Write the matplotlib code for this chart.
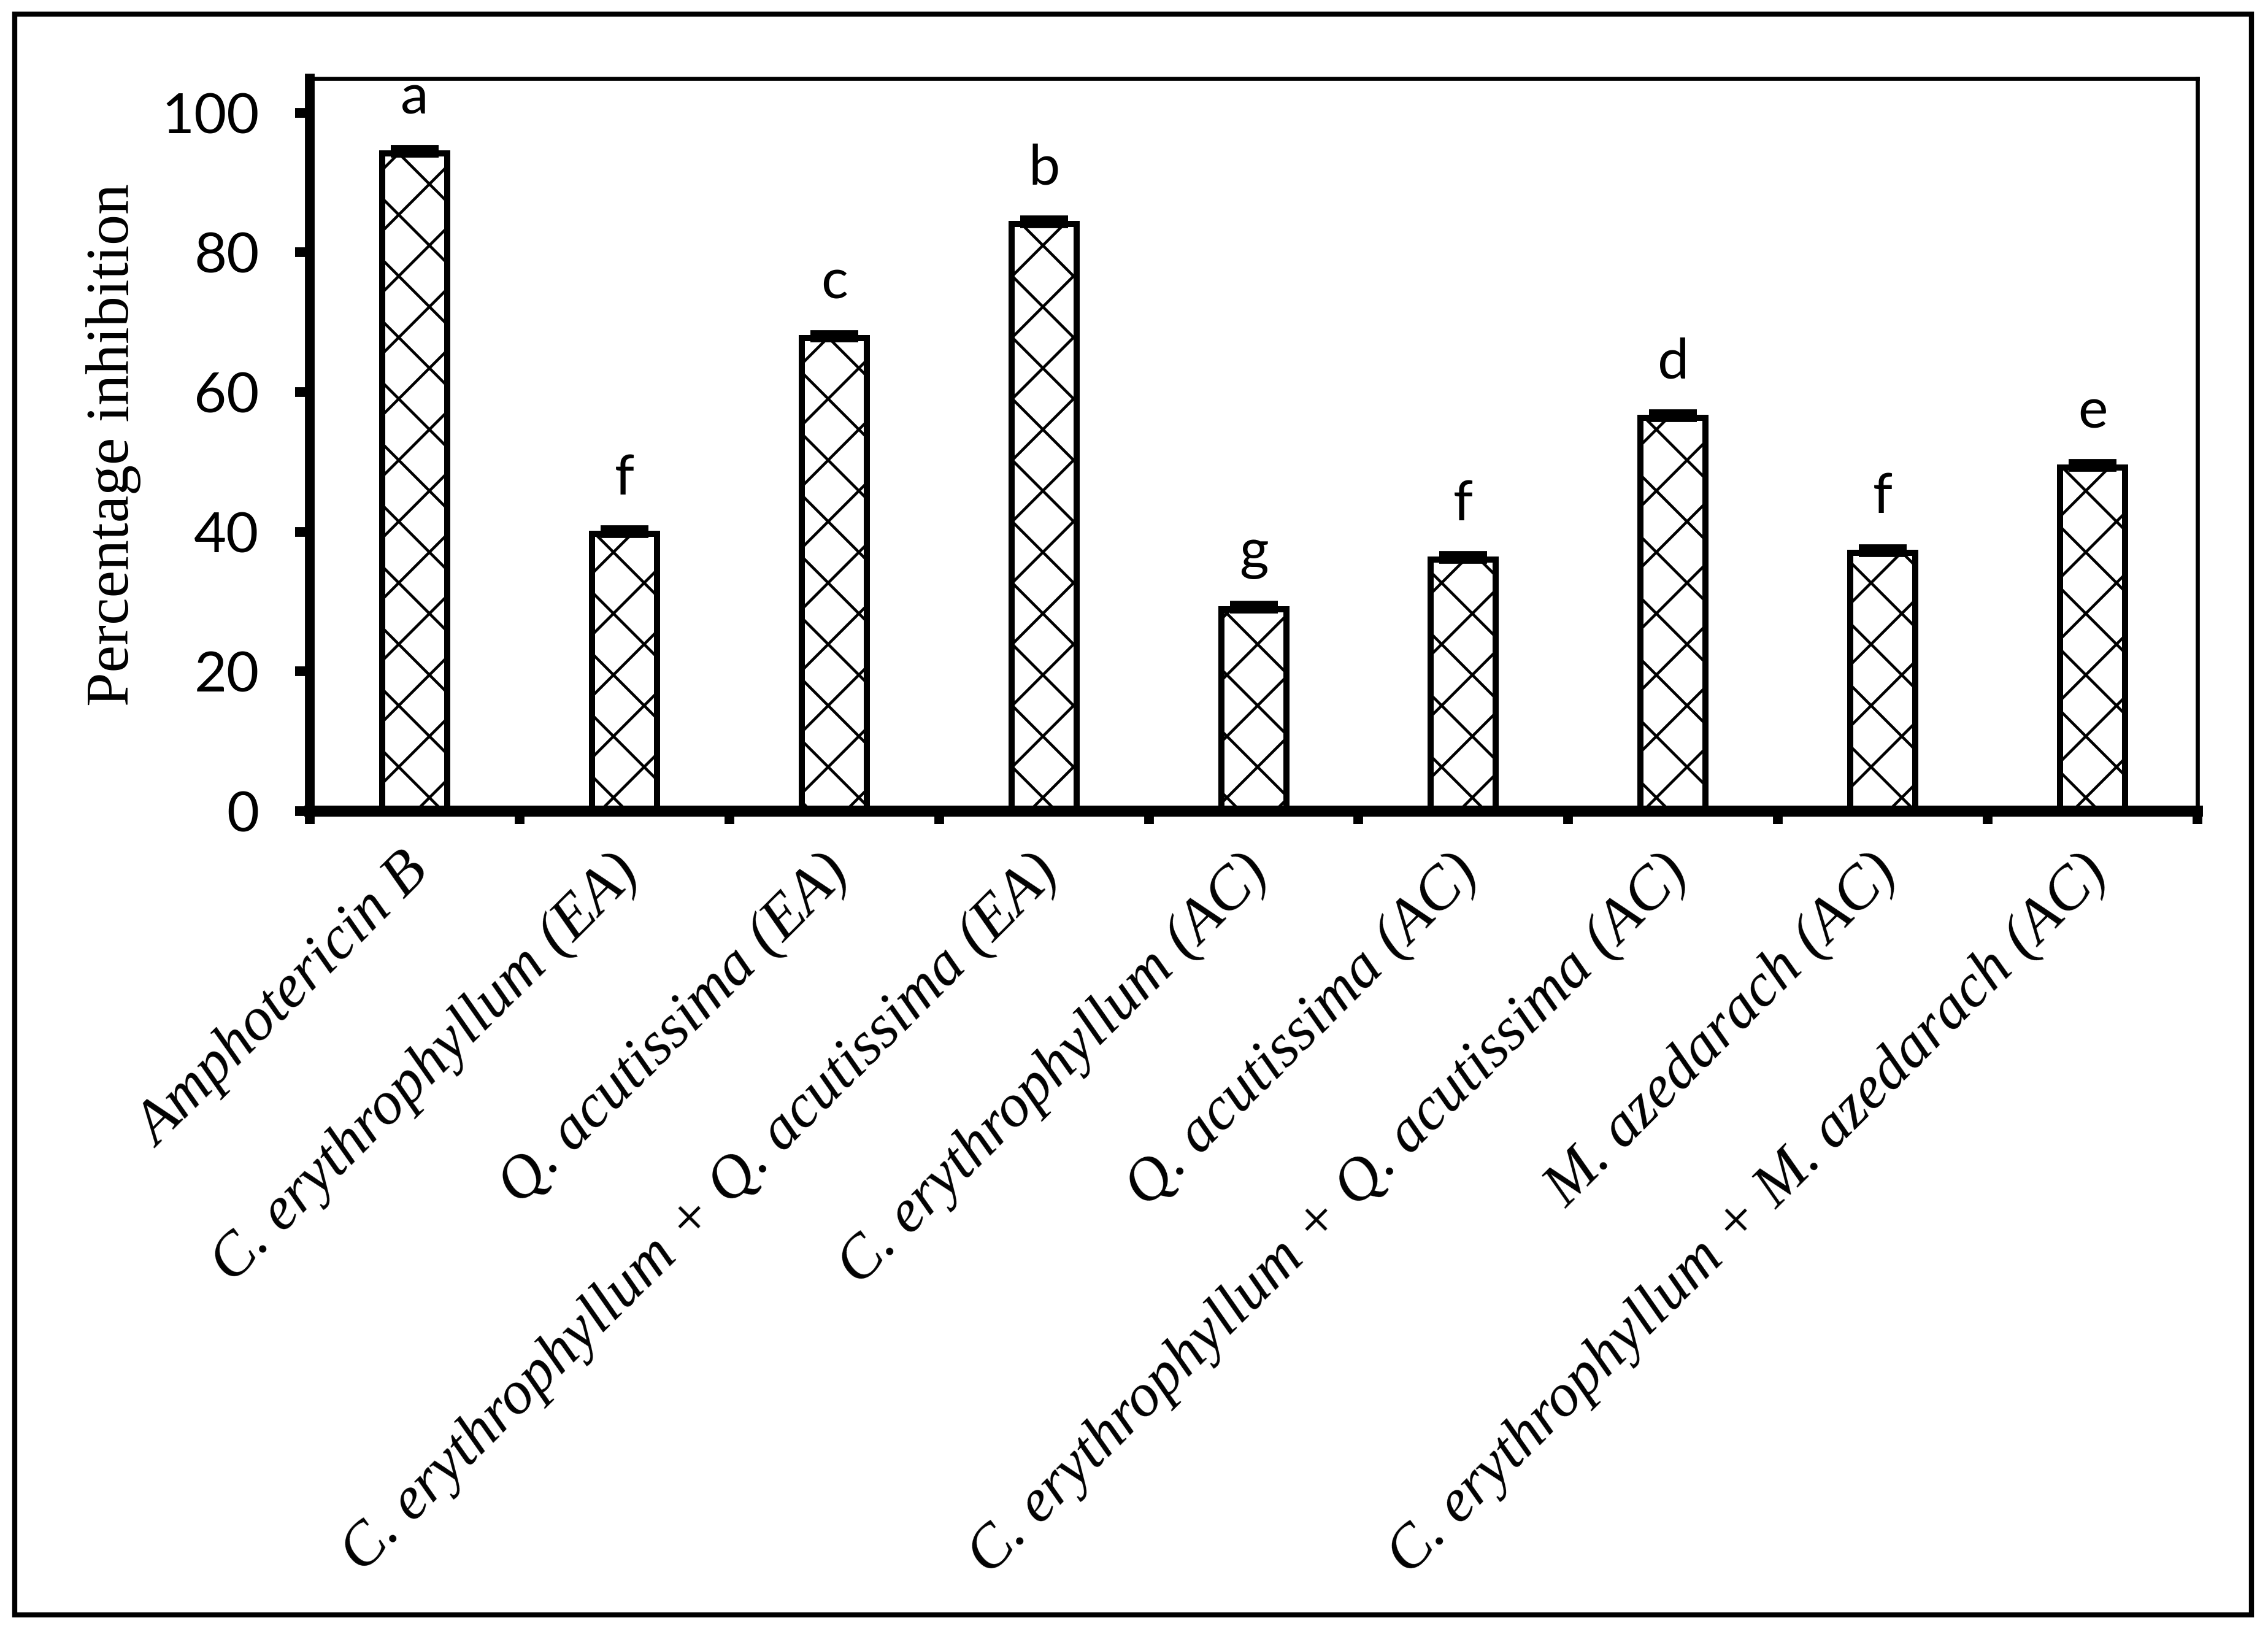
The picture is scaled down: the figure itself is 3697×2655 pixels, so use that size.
import numpy as np
import matplotlib
matplotlib.use('Agg')
import matplotlib.pyplot as plt
from matplotlib.patches import Rectangle
from matplotlib.font_manager import FontProperties

# data
labels = ['Amphotericin B',
          'C. erythrophyllum (EA)',
          'Q. acutissima (EA)',
          'C. erythrophyllum + Q. acutissima (EA)',
          'C. erythrophyllum (AC)',
          'Q. acutissima (AC)',
          'C. erythrophyllum + Q. acutissima (AC)',
          'M. azedarach (AC)',
          'C. erythrophyllum + M. azedarach (AC)']
values = [94.2, 39.7, 67.7, 84.1, 28.9, 36.0, 56.3, 37.0, 49.2]
errors = [0.6, 0.6, 0.6, 0.6, 0.6, 0.6, 0.6, 0.6, 0.6]
letters = ['a', 'f', 'c', 'b', 'g', 'f', 'd', 'f', 'e']
yticks = [0, 20, 40, 60, 80, 100]

plt.rcParams['font.family'] = ['Liberation Serif', 'DejaVu Serif']
plt.rcParams['hatch.linewidth'] = 1.1

serif_it = FontProperties(family='Liberation Serif', style='italic', size=24)
serif = FontProperties(family='Liberation Serif', size=24)
sans = FontProperties(family='Lato', size=22)

fig = plt.figure(figsize=(3697 / 300, 2655 / 300), dpi=300)
ax = fig.add_axes([0.1366, 0.5021, 0.9689 - 0.1366, 0.9518 - 0.5021])

x = np.arange(len(labels))
ax.bar(x, values, width=0.31, facecolor='white', edgecolor='black',
       linewidth=2.4, hatch='x', zorder=2)
ax.errorbar(x, values, yerr=[np.zeros(len(errors)), errors], fmt='none',
            ecolor='black', elinewidth=3, capsize=9.4, capthick=3.3, zorder=3)

for xi, v, e, l in zip(x, values, errors, letters):
    ax.annotate(l, (xi, v + e), xytext=(0, 10), textcoords='offset points',
                ha='center', va='bottom', fontproperties=sans)

ax.set_xlim(-0.5, len(labels) - 0.5)
ax.set_ylim(0, 104.9)
ax.set_yticks(yticks)

# ticks at category boundaries, labels at centres
ax.set_xticks(np.arange(len(labels) + 1) - 0.5)
ax.set_xticklabels([])
ax.set_xticks(x + 0.03, minor=True)
ax.tick_params(axis='x', which='minor', length=0, pad=21)
ax.tick_params(axis='x', which='major', direction='out', length=5, width=3.8)
ax.tick_params(axis='y', direction='out', length=5.8, width=3.8, pad=14)

ax.set_xticklabels(labels, minor=True, rotation=45, ha='right',
                   rotation_mode='anchor', va='center',
                   fontproperties=serif_it)
ax.set_yticklabels([str(t) for t in yticks], fontproperties=sans)
for tk in ax.xaxis.get_minor_ticks():
    tk.label1.set_fontproperties(serif_it)

ax.set_ylabel('Percentage inhibition', fontproperties=serif, labelpad=8)

ax.spines['left'].set_linewidth(3.8)
ax.spines['bottom'].set_linewidth(4.3)
ax.spines['top'].set_linewidth(1.6)
ax.spines['right'].set_linewidth(1.6)

# outer border around the whole chart
fig.patches.append(Rectangle((24 / 3697, 1 - 2632 / 2655),
                             (3670 - 24) / 3697, (2632 - 23) / 2655,
                             transform=fig.transFigure, fill=False,
                             edgecolor='black', linewidth=2))

fig.savefig('out.png', dpi=300)
